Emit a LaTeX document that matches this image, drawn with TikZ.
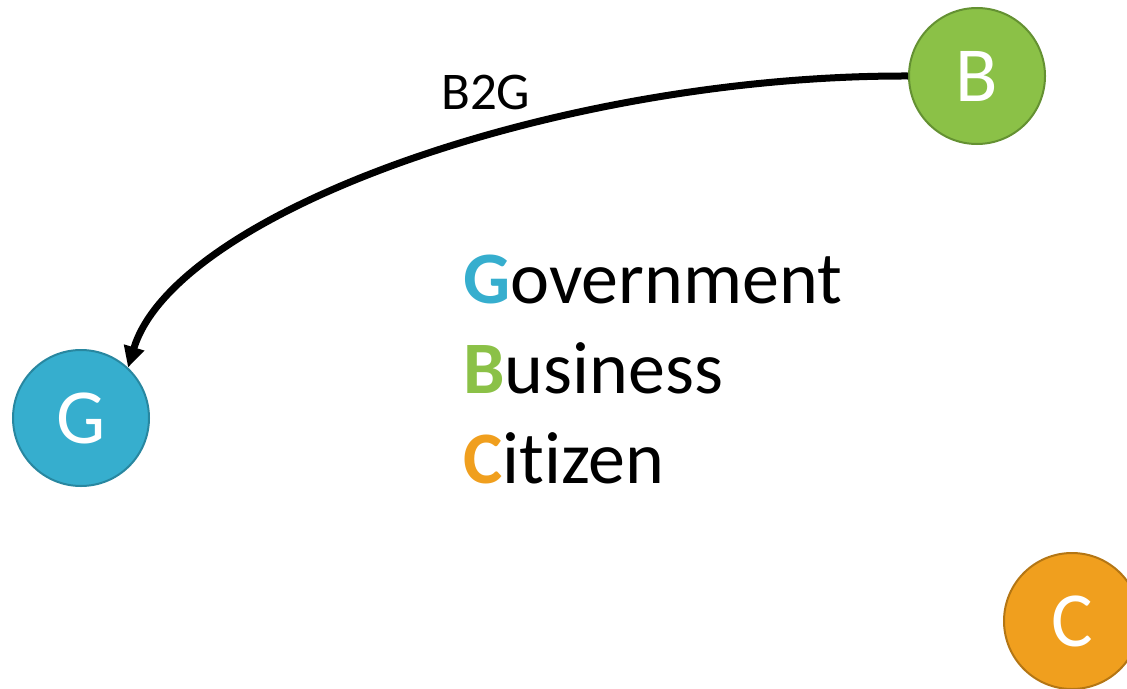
\documentclass[tikz,border=0pt]{standalone}
\usepackage{fontspec}
\setmainfont[Ligatures={NoCommon,NoRequired,NoContextual}]{Carlito}
\usetikzlibrary{arrows.meta}
\definecolor{gblue}{RGB}{54,174,206}
\definecolor{gblueD}{RGB}{40,135,160}
\definecolor{bgreen}{RGB}{139,193,71}
\definecolor{bgreenD}{RGB}{100,145,50}
\definecolor{corange}{RGB}{240,159,30}
\definecolor{corangeD}{RGB}{180,118,20}
\tikzset{
  actor/.style={circle, minimum size=136pt, inner sep=0pt, line width=2pt, text=white, font=\fontsize{78}{80}\selectfont},
  legend/.style={anchor=base west, inner sep=0pt, font=\fontsize{74}{78}\selectfont},
  flow/.style={line width=7pt, -{Triangle[length=21pt,width=20pt]}},
}
\begin{document}
\begin{tikzpicture}[x=1pt,y=-1pt]
\useasboundingbox (0,0) rectangle (1127,688);
\node[actor, fill=bgreen, draw=bgreenD] (B) at (977,76) {B};
\node[actor, fill=gblue, draw=gblueD] (G) at (81,418) {G};
\node[actor, fill=corange, draw=corangeD] (C) at (1072,621) {C};
\draw[flow] (B.west) .. controls (560,75) and (175,212) .. (G.47);
\node[anchor=base west, inner sep=0pt, font=\fontsize{53}{56}\selectfont] (lbl) at (441,109) {B2G};
\node[legend] (lg) at (463,303) {\textbf{\textcolor{gblue}{G}}overnment};
\node[legend] (lb) at (463,393) {\textbf{\textcolor{bgreen}{B}}usiness};
\node[legend] (lc) at (463,483) {\textbf{\textcolor{corange}{C}}itizen};
\end{tikzpicture}
\end{document}
